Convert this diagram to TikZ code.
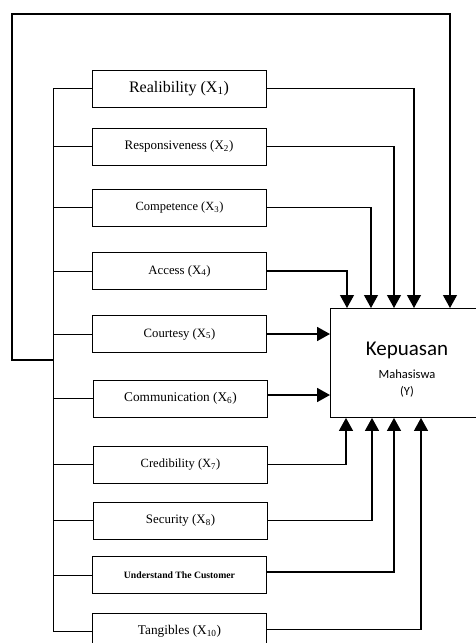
\documentclass[tikz,border=0pt]{standalone}
\usepackage{fontspec}
\setmainfont{Liberation Serif}
\newfontfamily\calibri{Carlito}
\usetikzlibrary{arrows.meta, positioning}

\tikzset{
  factor/.style={draw, line width=0.9pt, minimum width=174pt, minimum height=37pt, inner sep=0pt},
  link/.style={line width=0.9pt},
  feed/.style={line width=1.1pt, -{Triangle[width=14pt,length=13pt]}},
  bold feed/.style={line width=1.8pt, -{Triangle[width=14pt,length=13pt]}}
}

\begin{document}
\begin{tikzpicture}[x=1pt, y=-1pt]
  \useasboundingbox (0,0) rectangle (475,643);

  % factors
  \node[factor, font=\fontsize{16}{18}\selectfont] (x1) at (179,88.5) {Realibility (X\textsubscript{1})};
  \node[factor, font=\fontsize{13}{15}\selectfont] (x2) at (179,146.5) {Responsiveness (X\textsubscript{2})};
  \node[factor, font=\fontsize{12.5}{15}\selectfont] (x3) at (179.5,207.5) {Competence (X\textsubscript{3})};
  \node[factor, font=\fontsize{12.8}{15}\selectfont] (x4) at (179.5,271) {Access (X\textsubscript{4})};
  \node[factor, font=\fontsize{12.7}{15}\selectfont] (x5) at (179.5,334) {Courtesy (X\textsubscript{5})};
  \node[factor, font=\fontsize{13.3}{15}\selectfont] (x6) at (180.5,398.5) {Communication (X\textsubscript{6})};
  \node[factor, font=\fontsize{12.5}{15}\selectfont] (x7) at (180.5,464.5) {Credibility (X\textsubscript{7})};
  \node[factor, font=\fontsize{12.9}{15}\selectfont] (x8) at (180.5,520.5) {Security (X\textsubscript{8})};
  \node[factor, font=\fontsize{9.7}{11}\selectfont\bfseries] (x9) at (179.5,575) {Understand The Customer};
  \node[factor, font=\fontsize{13.3}{15}\selectfont] (x10) at (179.5,631.5) {Tangibles (X\textsubscript{10})};

  % dependent variable
  \node[draw, line width=0.9pt, minimum width=156pt, minimum height=109pt, anchor=north west, inner sep=0pt]
    (y) at (330,308) {};
  \node[font=\calibri\fontsize{21}{24}\selectfont] (ytitle) at (407,350) {Kepuasan};
  \node[font=\calibri\fontsize{12.5}{14}\selectfont] (ysub) at (407,374) {Mahasiswa};
  \node[font=\calibri\fontsize{12.5}{14}\selectfont] (yvar) at (407,392) {(Y)};

  % bus on the left
  \coordinate (bus) at (53,0);
  \coordinate (lp) at (53,360);
  \coordinate (top) at (12,14);
  \draw[link] (x1.west) -- (x1.west -| bus) -- (x10.west -| bus) -- (x10.west);
  \foreach \k in {2,...,9}
    \draw[link] (x\k.west) -- (x\k.west -| bus);
  \draw[feed] (lp) -| (top) -| ([xshift=120pt]y.north west);

  % arrows into Y
  \draw[feed] (x1.east) -| ([xshift=84pt]y.north west);
  \draw[feed] (x2.east) -| ([xshift=64pt]y.north west);
  \draw[feed] (x3.east) -| ([xshift=41pt]y.north west);
  \draw[feed] (x4.east) -| ([xshift=17pt]y.north west);
  \draw[bold feed] (x5.east) -- (x5.east -| y.west);
  \draw[bold feed] ([yshift=3.5pt]x6.east) -- ([yshift=3.5pt]x6.east -| y.west);
  \draw[feed] (x7.east) -| ([xshift=16pt]y.south west);
  \draw[feed] (x8.east) -| ([xshift=42pt]y.south west);
  \draw[feed] ([yshift=3pt]x9.east) -| ([xshift=64pt]y.south west);
  \draw[feed] ([yshift=2pt]x10.east) -| ([xshift=91pt]y.south west);
\end{tikzpicture}
\end{document}
